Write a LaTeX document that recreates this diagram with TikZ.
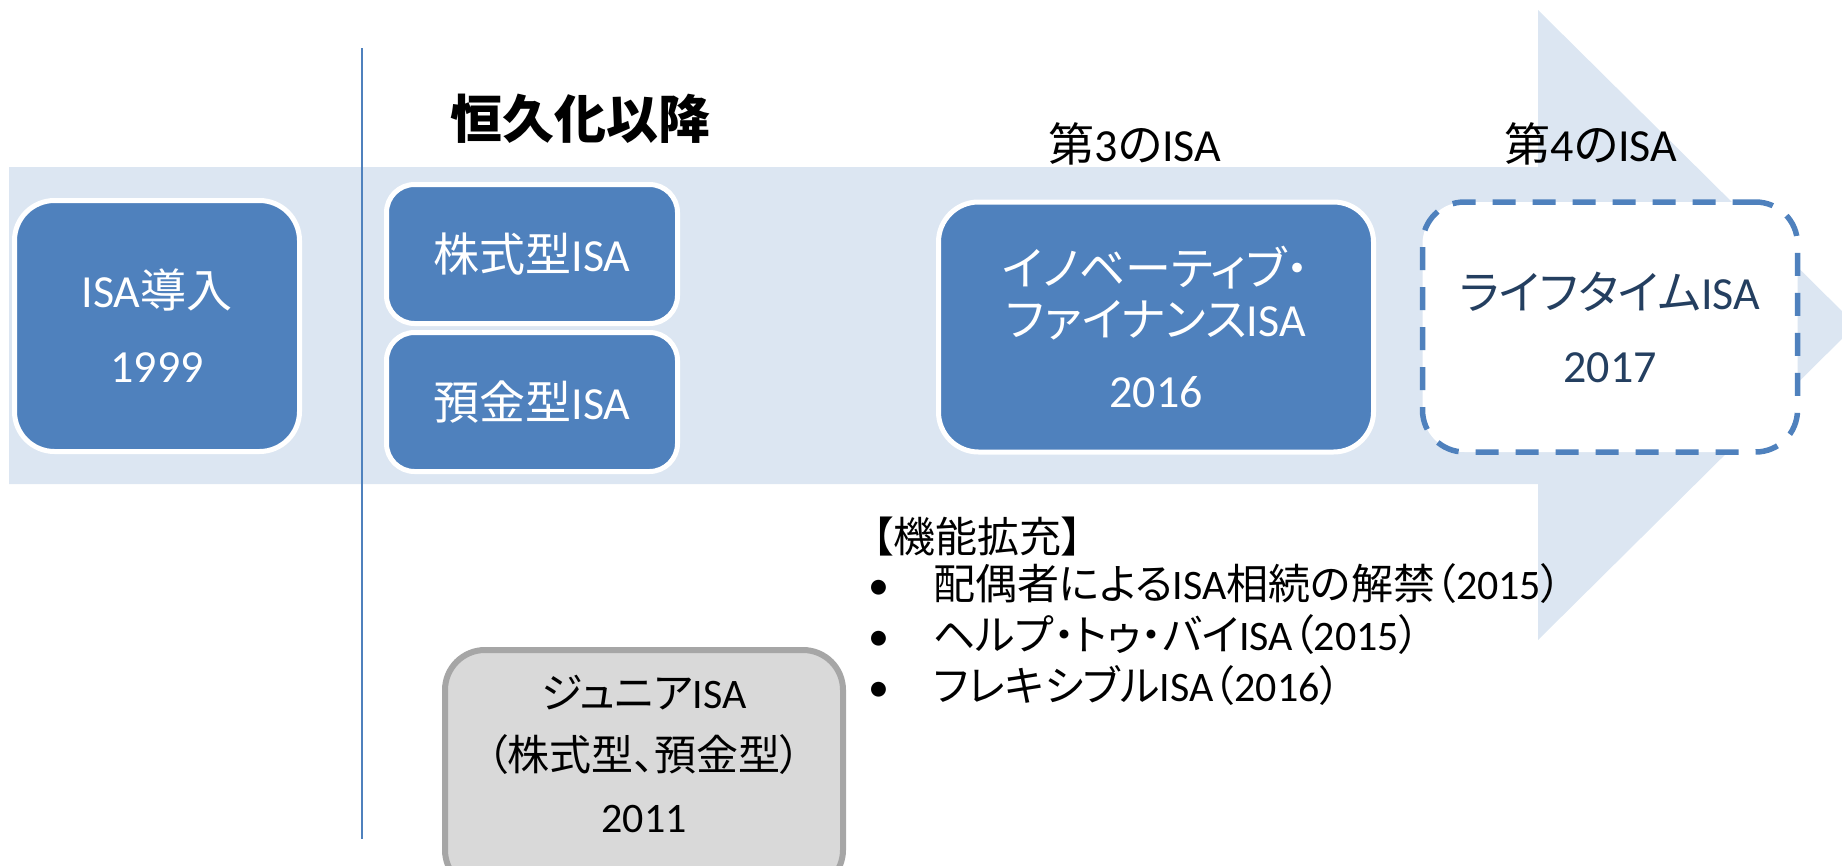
\documentclass[tikz,border=0pt]{standalone}
\usepackage{fontspec}
\setmainfont{Carlito}
\newfontfamily\jp[RawFeature=+palt]{Noto Sans CJK JP}
\newcommand{\J}[1]{{\jp #1}}
\definecolor{band}{HTML}{DCE6F2}
\definecolor{boxblue}{HTML}{4F81BD}
\definecolor{navy}{HTML}{243F60}
\definecolor{jgray}{HTML}{D9D9D9}
\definecolor{jborder}{HTML}{A6A6A6}
\tikzset{
  bx/.style={rectangle, rounded corners=40pt, fill=boxblue, draw=white, line width=5pt,
    text=white, align=center, font=\fontsize{46}{51}\selectfont, inner sep=0pt},
  bxsmall/.style={bx, rounded corners=28pt},
  dashbx/.style={rectangle, rounded corners=42pt, fill=white, draw=boxblue, line width=5.5pt,
    dash pattern=on 23pt off 17pt, text=navy, align=center,
    font=\fontsize{46}{51}\selectfont, inner sep=0pt},
  jbx/.style={rectangle, rounded corners=40pt, fill=jgray, draw=jborder, line width=6pt, inner sep=0pt},
  lab/.style={inner sep=0pt, text=black, font=\fontsize{46}{51}\selectfont},
  btxt/.style={inner sep=0pt, text=black, anchor=west, text height=33pt, text depth=5pt,
    font=\fontsize{42}{50}\selectfont},
  dot/.style={inner sep=0pt, text=black, text height=33pt, text depth=5pt,
    font=\fontsize{42}{50}\selectfont}
}
\begin{document}
\begin{tikzpicture}[x=1pt,y=-1pt]
\useasboundingbox (0,0) rectangle (1842,865);
\clip (0,0) rectangle (1842,865);
% big arrow
\fill[band] (9,167) -- (1538,167) -- (1538,10) -- (1856,325) -- (1538,640) -- (1538,484) -- (9,484) -- cycle;
% divider
\coordinate (vtop) at (362,48);
\coordinate (vbot) at (362,839);
\draw[boxblue, line width=2pt] (vtop) -- (vbot);
% boxes
\node[bx, minimum width=285pt, minimum height=251pt] (intro) at (157,326)
  {ISA\J{導入}\\[24pt]1999};
\node[bxsmall, minimum width=291pt, minimum height=139pt] (stock) at (532,254)
  {\J{株式型}ISA};
\node[bxsmall, minimum width=291pt, minimum height=139pt] (deposit) at (532,402)
  {\J{預金型}ISA};
\node[bx, minimum width=435pt, minimum height=250pt] (inno) at (1156,327)
  {\J{イノベーティブ・}\\\J{ファイナンス}ISA\\[20pt]2016};
\node[dashbx, minimum width=375pt, minimum height=250pt] (life) at (1610,327)
  {\J{ライフタイム}ISA\\[22pt]2017};
% headings
\node[inner sep=0pt, font=\fontsize{52}{60}\selectfont\jp\bfseries] (perm) at (580,119) {恒久化以降};
\node[lab] (third) at (1135,144) {\J{第}3\J{の}ISA};
\node[lab] (fourth) at (1591,144) {\J{第}4\J{の}ISA};
% junior
\node[jbx, minimum width=398pt, minimum height=240pt] (junior) at (644,770) {};
\node[inner sep=0pt, align=center, font=\fontsize{42}{50}\selectfont] (jtext) at (644,754)
  {\J{ジュニア}ISA\\[12pt]\J{（株式型、預金型）}\\[12pt]2011};
% function expansions
\node[btxt] (head) at (872,538) {\J{【機能拡充】}};
\node[dot] (d1) at (879,585) {•};
\node[dot] (d2) at (879,636) {•};
\node[dot] (d3) at (879,687) {•};
\node[btxt] (b1) at (933,585) {\J{配偶者による}ISA\J{相続の解禁（}2015\J{）}};
\node[btxt] (b2) at (933,636) {\J{ヘルプ・トゥ・バイ}ISA\J{（}2015\J{）}};
\node[btxt] (b3) at (933,687) {\J{フレキシブル}ISA\J{（}2016\J{）}};
\end{tikzpicture}
\end{document}
